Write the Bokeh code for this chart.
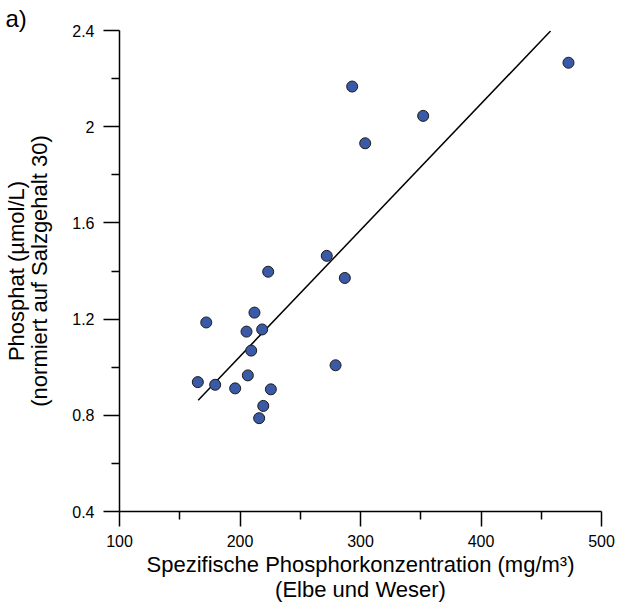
from bokeh.plotting import figure
from bokeh.models import FixedTicker, Title, Range1d
from bokeh.embed import file_html
from bokeh.resources import INLINE

# data
px = [172.0, 212.0, 205.4, 218.4, 209.3, 165.0, 179.4, 196.0, 206.5, 225.6,
      219.3, 215.9, 223.4, 293.1, 352.0, 303.9, 472.6, 272.0, 287.0, 279.3]
py = [1.186, 1.227, 1.148, 1.157, 1.069, 0.938, 0.927, 0.912, 0.966, 0.908,
      0.839, 0.788, 1.397, 2.167, 2.045, 1.931, 2.266, 1.463, 1.371, 1.008]
fit_x = [165.3, 457.7]
fit_y = [0.863, 2.398]
x_ticks = [100, 200, 300, 400, 500]
x_minor = [150, 250, 350, 450]
y_ticks = [0.4, 0.8, 1.2, 1.6, 2, 2.4]
y_minor = [0.6, 1.0, 1.4, 1.8, 2.2]
y_labels = {0.4: "0.4", 0.8: "0.8", 1.2: "1.2", 1.6: "1.6", 2: "2", 2.4: "2.4"}

FONT = "Liberation Sans"

p = figure(width=617, height=604, output_backend="svg", toolbar_location=None,
           x_range=Range1d(100, 500), y_range=Range1d(0.4, 2.4),
           min_border_left=119, min_border_right=16, min_border_top=30,
           min_border_bottom=91)
p.outline_line_color = None
p.xgrid.visible = False
p.ygrid.visible = False

p.line(fit_x, fit_y, line_color="black", line_width=1.5)
p.scatter(px, py, size=11, fill_color="#3A5AA8", line_color="#1a1a1a", line_width=1)

for ax in (p.xaxis[0], p.yaxis[0]):
    ax.axis_line_color = "black"
    ax.axis_line_width = 1.5
    ax.major_tick_line_width = 1.5
    ax.minor_tick_line_width = 1.5
    ax.major_tick_in = 0
    ax.minor_tick_in = 0
    ax.minor_tick_out = 8
    ax.major_label_text_font = FONT
    ax.major_label_text_font_size = "16px"
    ax.major_label_text_color = "black"
    ax.axis_label_text_font = FONT
    ax.axis_label_text_font_size = "22px"
    ax.axis_label_text_font_style = "normal"
    ax.axis_label_text_color = "black"

p.xaxis[0].major_tick_out = 15
p.yaxis[0].major_tick_out = 16
p.xaxis[0].ticker = FixedTicker(ticks=x_ticks, minor_ticks=x_minor)
p.yaxis[0].ticker = FixedTicker(ticks=y_ticks, minor_ticks=y_minor)
p.yaxis[0].major_label_overrides = y_labels
p.xaxis[0].major_label_standoff = 8
p.yaxis[0].major_label_standoff = 9
p.xaxis[0].axis_label = "Spezifische Phosphorkonzentration (mg/m³)\n(Elbe und Weser)"
p.yaxis[0].axis_label = "Phosphat (µmol/L)\n(normiert auf Salzgehalt 30)"
p.xaxis[0].axis_label_text_line_height = 1.0
p.yaxis[0].axis_label_text_line_height = 0.92
p.xaxis[0].axis_label_standoff = 2
p.yaxis[0].axis_label_standoff = 17

p.add_layout(Title(text="a)", align="left", offset=-114, standoff=-3,
                   text_font=FONT, text_font_size="24px", text_font_style="normal",
                   text_color="black"), "above")

open("out.html", "w").write(file_html(p, INLINE))
